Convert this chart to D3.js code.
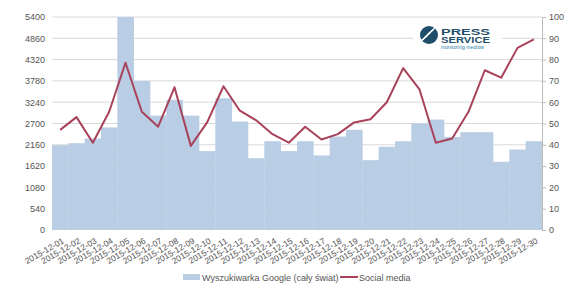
<!DOCTYPE html>
<html>
<head>
<meta charset="utf-8">
<script src="https://cdn.jsdelivr.net/npm/d3@7"></script>
<style>
  body { margin: 0; background: #fff; }
  svg text { font-family: "Liberation Sans", Arial, sans-serif; fill: #555; }
</style>
</head>
<body>
<div id="chart"></div>
<script>
const dates = ['2015-12-01','2015-12-02','2015-12-03','2015-12-04','2015-12-05','2015-12-06','2015-12-07','2015-12-08','2015-12-09','2015-12-10',
  '2015-12-11','2015-12-12','2015-12-13','2015-12-14','2015-12-15','2015-12-16','2015-12-17','2015-12-18','2015-12-19','2015-12-20',
  '2015-12-21','2015-12-22','2015-12-23','2015-12-24','2015-12-25','2015-12-26','2015-12-27','2015-12-28','2015-12-29','2015-12-30'];
const google = [2150, 2200, 2320, 2600, 5400, 3780, 2900, 3300, 2900, 2000,
  3340, 2750, 1820, 2250, 2000, 2250, 1890, 2370, 2540, 1770,
  2110, 2250, 2700, 2800, 2360, 2480, 2480, 1730, 2040, 2250];
const social = [47, 53, 41, 55.5, 78.5, 55.5, 48.5, 67, 39.5, 50.5,
  67.5, 56, 51.5, 45, 41, 48.5, 42.5, 45, 50.5, 52,
  60, 76, 66, 41, 43, 55.5, 75, 71.5, 85.5, 89.5];
const leftTicks = [0, 540, 1080, 1620, 2160, 2700, 3240, 3780, 4320, 4860, 5400];
const rightTicks = [0, 10, 20, 30, 40, 50, 60, 70, 80, 90, 100];
const seriesNames = ['Wyszukiwarka Google (cały świat)', 'Social media'];

const width = 580, height = 289;
const margin = {top: 17, right: 38, bottom: 59, left: 52};
const innerWidth = width - margin.left - margin.right;
const innerHeight = height - margin.top - margin.bottom;

const svg = d3.select('#chart').append('svg')
  .attr('width', width).attr('height', height);

const g = svg.append('g')
  .attr('transform', `translate(${margin.left},${margin.top})`);

const xScale = d3.scaleBand().domain(dates).range([0, innerWidth]).padding(0);
const yLeft = d3.scaleLinear().domain([0, 5400]).range([innerHeight, 0]);
const yRight = d3.scaleLinear().domain([0, 100]).range([innerHeight, 0]);

// grid
g.selectAll('.grid').data(leftTicks.slice(1)).enter().append('line')
  .attr('class', 'grid')
  .attr('x1', 0).attr('x2', innerWidth)
  .attr('y1', d => yLeft(d)).attr('y2', d => yLeft(d))
  .attr('stroke', '#d9d9d9').attr('stroke-width', 1);

// bars
g.selectAll('.bar').data(google).enter().append('rect')
  .attr('class', 'bar')
  .attr('x', (d, i) => xScale(dates[i]))
  .attr('width', xScale.bandwidth() + 0.3)
  .attr('y', d => yLeft(d))
  .attr('height', d => innerHeight - yLeft(d))
  .attr('fill', '#b9cde5');

// logo
const logo = g.append('g').attr('transform', `translate(${413 - margin.left},${35 - margin.top})`);
logo.append('rect').attr('x', 0).attr('y', -12).attr('width', 89).attr('height', 24).attr('fill', '#fff');
logo.append('circle').attr('cx', 16).attr('cy', 0).attr('r', 9).attr('fill', '#1f4e6b');
[-4.5, -1.5, 1.5, 4.5].forEach(o => {
  logo.append('line')
    .attr('x1', 10 + o).attr('y1', 4 - o).attr('x2', 19 + o).attr('y2', -4 - o)
    .attr('stroke', '#fff').attr('stroke-width', 1.1);
});
logo.append('text').attr('x', 28).attr('y', 0).text('PRESS')
  .attr('textLength', 49).attr('lengthAdjust', 'spacingAndGlyphs')
  .style('font-size', '9.5px').style('font-weight', 'bold').style('fill', '#1f4e6b');
logo.append('text').attr('x', 28).attr('y', 8).text('SERVICE')
  .attr('textLength', 49).attr('lengthAdjust', 'spacingAndGlyphs')
  .style('font-size', '9.5px').style('font-weight', 'bold').style('fill', '#1f4e6b');
logo.append('text').attr('x', 28).attr('y', 13.5).text('monitoring mediów')
  .attr('textLength', 43).attr('lengthAdjust', 'spacingAndGlyphs')
  .style('font-size', '5.5px').style('fill', '#2a7fa8');

// line
const line = d3.line()
  .x((d, i) => xScale(dates[i]) + xScale.bandwidth() / 2)
  .y(d => yRight(d));
g.append('path').datum(social)
  .attr('d', line)
  .attr('fill', 'none')
  .attr('stroke', '#a8425a')
  .attr('stroke-width', 2)
  .attr('stroke-linejoin', 'round');

// left axis
const yAxisL = d3.axisLeft(yLeft).tickValues(leftTicks).tickFormat(d3.format('d')).tickSize(0).tickPadding(7);
const yLG = g.append('g').call(yAxisL);
yLG.select('.domain').remove();
yLG.selectAll('text').style('font-size', '9px').style('fill', '#555');

// right axis
const yAxisR = d3.axisRight(yRight).tickValues(rightTicks).tickSize(4).tickPadding(3).tickSizeOuter(0);
const yRG = g.append('g').attr('transform', `translate(${innerWidth},0)`).call(yAxisR);
yRG.select('.domain').attr('stroke', '#bbb');
yRG.selectAll('.tick line').attr('stroke', '#bbb');
yRG.selectAll('text').style('font-size', '9px').style('fill', '#555');

// x axis
const xAxis = d3.axisBottom(xScale).tickSize(0);
const xG = g.append('g').attr('transform', `translate(0,${innerHeight})`).call(xAxis);
xG.select('.domain').remove();
xG.selectAll('text')
  .style('font-size', '8.5px').style('fill', '#555')
  .style('text-anchor', 'end')
  .attr('x', 0).attr('y', 0)
  .attr('dy', '0.35em')
  .attr('transform', 'translate(3,10) rotate(-30)');

// legend
const legend = svg.append('g').attr('transform', `translate(183,277)`);
legend.append('rect').attr('x', 0).attr('y', -3).attr('width', 17).attr('height', 6).attr('fill', '#b9cde5');
legend.append('text').attr('x', 19).attr('y', 3.5).text(seriesNames[0]).style('font-size', '9px');
legend.append('line').attr('x1', 157).attr('x2', 175).attr('y1', 0).attr('y2', 0)
  .attr('stroke', '#a8425a').attr('stroke-width', 2);
legend.append('text').attr('x', 176).attr('y', 3.5).text(seriesNames[1]).style('font-size', '9px');
</script>
</body>
</html>
